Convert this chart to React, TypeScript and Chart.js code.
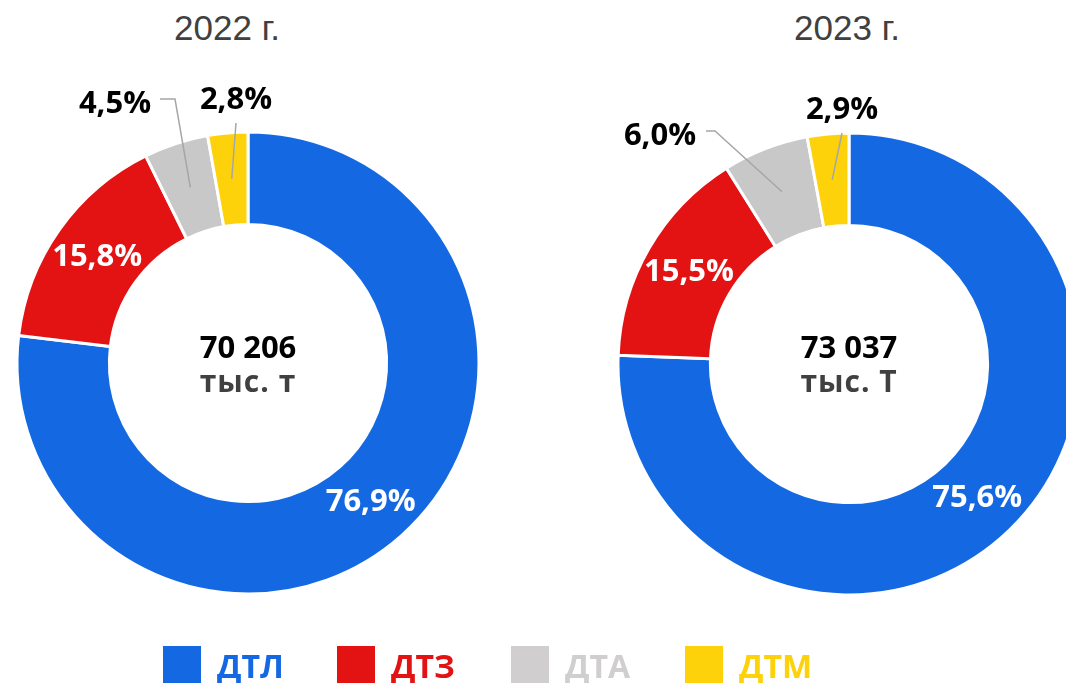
import React, { useEffect, useRef } from "react";
import { Chart, registerables } from "chart.js";

Chart.register(...registerables);

const categories = ["ДТЛ", "ДТЗ", "ДТА", "ДТМ"];
const years = ["2022 г.", "2023 г."];
const values2022 = [76.9, 15.8, 4.5, 2.8];
const values2023 = [75.6, 15.5, 6.0, 2.9];
const totals = ["70 206", "73 037"];
const units = ["тыс. т", "тыс. Т"];

const sliceColors = ["#1469E3", "#E31213", "#C8C8C8", "#FED20B"];
const legendColors = ["#1469E3", "#E31213", "#D0CECE", "#FED20B"];

const W = 1066;
const H = 683;
const FONT = "'Open Sans', 'Noto Sans', sans-serif";

const fmt = (v: number) => v.toFixed(1).replace(".", ",") + "%";

type OuterLabel = { index: number; label: [number, number]; path: [number, number][] };

const labelPlugin = {
  id: "donutLabels",
  afterDatasetsDraw(chart: any, _args: any, opts: any) {
    const ctx = chart.ctx;
    const meta = chart.getDatasetMeta(0);
    const data = chart.data.datasets[0].data as number[];
    const arcs = meta.data;
    if (!arcs.length) return;
    const cx = arcs[0].x;
    const cy = arcs[0].y;
    ctx.save();
    // center text
    ctx.textAlign = "center";
    ctx.textBaseline = "alphabetic";
    ctx.fillStyle = "#000000";
    ctx.font = `bold 31px ${FONT}`;
    ctx.fillText(opts.total, cx, cy + opts.totalDy);
    ctx.fillStyle = "#404040";
    ctx.font = `bold 30px ${FONT}`;
    (ctx as any).letterSpacing = "1px";
    ctx.fillText(opts.unit, cx, cy + opts.unitDy);
    (ctx as any).letterSpacing = "0px";

    const mid = (i: number) => {
      const a: any = arcs[i];
      const p = a.getProps(["startAngle", "endAngle", "innerRadius", "outerRadius"], true);
      const ang = (p.startAngle + p.endAngle) / 2;
      const r = (p.innerRadius + p.outerRadius) / 2;
      return [cx + Math.cos(ang) * r, cy + Math.sin(ang) * r];
    };

    // inner labels
    ctx.font = `bold 31px ${FONT}`;
    ctx.fillStyle = "#FFFFFF";
    ctx.textBaseline = "middle";
    [0, 1].forEach((i) => {
      const [x, y] = mid(i);
      ctx.fillText(fmt(data[i]), x, y + 1);
    });

    // outer labels with leader lines
    (opts.outer as OuterLabel[]).forEach((o) => {
      const [mx, my] = mid(o.index);
      ctx.strokeStyle = "#A6A6A6";
      ctx.lineWidth = 1.5;
      ctx.beginPath();
      o.path.forEach(([dx, dy], k) => {
        if (k === 0) ctx.moveTo(cx + dx, cy + dy);
        else ctx.lineTo(cx + dx, cy + dy);
      });
      ctx.lineTo(mx, my);
      ctx.stroke();
      ctx.fillStyle = "#000000";
      ctx.fillText(fmt(data[o.index]), cx + o.label[0], cy + o.label[1] + 1);
    });
    ctx.restore();
  },
};

function Donut({ values, padding, plugOpts }: { values: number[]; padding: any; plugOpts: any }) {
  const ref = useRef<HTMLCanvasElement | null>(null);
  useEffect(() => {
    if (!ref.current) return;
    const chart = new Chart(ref.current, {
      type: "doughnut",
      data: {
        labels: categories,
        datasets: [
          {
            data: values,
            backgroundColor: sliceColors,
            borderColor: "#FFFFFF",
            borderWidth: 3,
            clip: false,
          } as any,
        ],
      },
      options: {
        responsive: false,
        animation: false,
        cutout: "60%",
        radius: 231,
        layout: { padding },
        events: [],
        plugins: {
          legend: { display: false },
          tooltip: { enabled: false },
          title: { display: false },
          donutLabels: plugOpts,
        } as any,
      },
      plugins: [labelPlugin],
    });
    return () => chart.destroy();
  }, []);
  return (
    <canvas
      ref={ref}
      width={W}
      height={H}
      style={{ position: "absolute", left: 0, top: 0, width: W, height: H }}
    />
  );
}

const titleStyle = (cx: number): React.CSSProperties => ({
  position: "absolute",
  left: cx - 150,
  width: 300,
  top: 7,
  textAlign: "center",
  fontFamily: "'Liberation Sans', Arial, sans-serif",
  fontSize: 35,
  lineHeight: "42px",
  color: "#404040",
});

export default function App() {
  const legendX = [163, 337, 511, 685];
  return (
    <div
      style={{
        position: "fixed",
        left: 0,
        top: 0,
        width: W,
        height: H,
        overflow: "hidden",
        background: "#FFFFFF",
      }}
    >
      <div style={titleStyle(227)}>{years[0]}</div>
      <div style={titleStyle(847)}>{years[1]}</div>
      <Donut
        values={values2022}
        padding={{ left: 0, right: W - 496, top: 43, bottom: 0 }}
        plugOpts={{
          total: totals[0],
          unit: units[0],
          totalDy: -5,
          unitDy: 29,
          outer: [
            { index: 2, label: [-133, -260], path: [[-88, -264], [-73, -264]] },
            { index: 3, label: [-12, -264], path: [[-12, -240]] },
          ],
        }}
      />
      <Donut
        values={values2023}
        padding={{ left: 632, right: 0, top: 45, bottom: 0 }}
        plugOpts={{
          total: totals[1],
          unit: units[1],
          totalDy: -6,
          unitDy: 28,
          outer: [
            { index: 2, label: [-189, -229], path: [[-143, -233], [-134, -233]] },
            { index: 3, label: [-7, -255], path: [[-7, -231]] },
          ],
        }}
      />
      {categories.map((c, i) => (
        <div key={c}>
          <div
            style={{
              position: "absolute",
              left: legendX[i],
              top: 646,
              width: 38,
              height: 38,
              background: legendColors[i],
            }}
          />
          <div
            style={{
              position: "absolute",
              left: legendX[i] + 54,
              top: 644,
              height: 44,
              lineHeight: "44px",
              fontFamily: FONT,
              fontWeight: 700,
              fontSize: 32,
              color: legendColors[i],
              whiteSpace: "nowrap",
            }}
          >
            {c}
          </div>
        </div>
      ))}
    </div>
  );
}
